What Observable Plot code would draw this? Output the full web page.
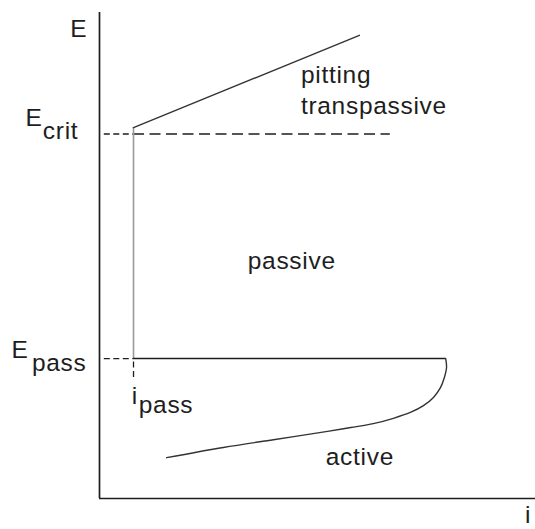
<!DOCTYPE html>
<html>
<head>
<meta charset="utf-8">
<script src="https://cdn.jsdelivr.net/npm/d3@7"></script>
<script src="https://cdn.jsdelivr.net/npm/@observablehq/plot@0.6"></script>
<style>
  html, body { margin: 0; padding: 0; background: #fff; }
</style>
</head>
<body>
<div id="chart"></div>
<script>
// Schematic polarisation curve (x = log i, y = E), arbitrary units
const Ecrit = 7.5;
const Epass = 2.88;
const ipass = 0.78;
const dashStart = 0.11;      // where the guide dashes begin near the E axis
const EcritDashEnd = 6.67;   // end of the long dashed E_crit line
const ipassDashEnd = 2.49;   // bottom of the short dashed i_pass mark
const passiveTopE = 7.63;    // top of the passive vertical segment
const EpassLineEnd = 7.94;   // right end of the E_pass line

// pitting / transpassive branch
const pittingX = [0.78, 5.96];
const pittingE = [7.63, 9.53];

// active branch (from the E_pass nose down to the low end)
const activeX = [7.94, 7.96, 7.91, 7.82, 7.66, 7.43, 7.13, 6.74, 6.28, 5.76, 5.23, 3.99, 2.84, 1.54];
const activeE = [2.88, 2.70, 2.49, 2.28, 2.08, 1.91, 1.77, 1.65, 1.54, 1.46, 1.38, 1.21, 1.05, 0.84];

// text labels (baseline-left positions)
const labelText = ["E", "crit", "E", "pass", "i", "pass", "pitting", "transpassive", "passive", "active", "i"];
const labelX    = [-1.70, -1.30, -2.02, -1.55, 0.74, 0.90, 4.62, 4.62, 3.40, 5.19, 9.76];
const labelY    = [7.67, 7.39, 2.90, 2.63, 1.95, 1.75, 8.54, 7.92, 4.73, 0.68, -0.51];
const axisLabelE = {text: "E", x: -0.28, y: 9.49};

const pitting = pittingX.map((x, i) => ({x, y: pittingE[i]}));
const active = activeX.map((x, i) => ({x, y: activeE[i]}));
const labels = labelText.map((t, i) => ({t, x: labelX[i], y: labelY[i]}));

const ink = "#1e1e1e";
const font = { fontSize: 24.5, fill: ink, lineAnchor: "bottom" };

const chart = Plot.plot({
  width: 535,
  height: 529,
  marginLeft: 99,
  marginRight: 0,
  marginTop: 12,
  marginBottom: 31,
  x: { domain: [0, 10], axis: null },
  y: { domain: [0, 10], axis: null },
  style: { fontFamily: "'Liberation Sans', Arial, Helvetica, sans-serif", letterSpacing: "0.7px", background: "#fff", overflow: "visible" },
  marks: [
    // axes
    Plot.ruleX([0], { y1: 0, y2: 10, stroke: ink, strokeWidth: 1.7 }),
    Plot.ruleY([0], { x1: 0, x2: 10, stroke: ink, strokeWidth: 1.7 }),
    // E_crit guides
    Plot.ruleY([Ecrit], { x1: dashStart, x2: ipass, stroke: ink, strokeWidth: 1.3, strokeDasharray: "6,3.5" }),
    Plot.ruleY([Ecrit], { x1: ipass, x2: EcritDashEnd, stroke: ink, strokeWidth: 1.3, strokeDasharray: "11,5.5" }),
    // passive vertical
    Plot.ruleX([ipass], { y1: Epass, y2: passiveTopE, stroke: "#999", strokeWidth: 1.6 }),
    // E_pass guides
    Plot.ruleY([Epass], { x1: dashStart, x2: ipass, stroke: ink, strokeWidth: 1.3, strokeDasharray: "6,3.5" }),
    Plot.ruleX([ipass], { y1: ipassDashEnd, y2: Epass, stroke: ink, strokeWidth: 1.3, strokeDasharray: "6,3.5" }),
    Plot.ruleY([Epass], { x1: ipass, x2: EpassLineEnd, stroke: ink, strokeWidth: 1.6 }),
    // branches
    Plot.line(pitting, { x: "x", y: "y", stroke: "#333", strokeWidth: 1.4 }),
    Plot.line(active, { x: "x", y: "y", stroke: "#333", strokeWidth: 1.4, curve: "catmull-rom" }),
    // labels
    Plot.text(labels, { x: "x", y: "y", text: "t", textAnchor: "start", ...font }),
    Plot.text([axisLabelE], { x: "x", y: "y", text: "text", textAnchor: "end", ...font })
  ]
});

document.getElementById("chart").appendChild(chart);
</script>
</body>
</html>
